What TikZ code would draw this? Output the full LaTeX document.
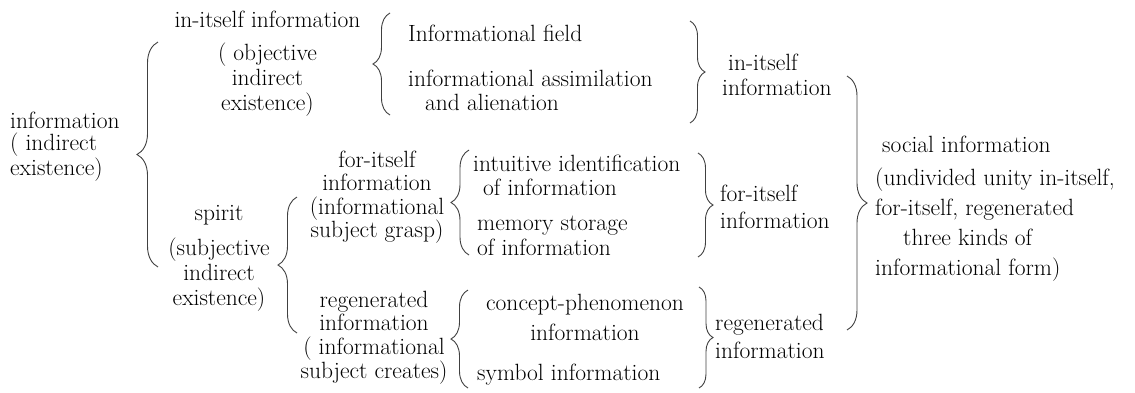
\documentclass[tikz,border=0pt]{standalone}
\usepackage{fontspec}
\usepackage{tikz}
\usetikzlibrary{decorations.pathreplacing}

\begin{document}
\begin{tikzpicture}
[x=1pt,y=-1pt,%
  every node/.style={inner sep=0pt,font=\fontsize{23.5}{24}\selectfont},%
  lines/.style={font=\fontsize{23.5}{#1}\selectfont},%
  curl/.style={draw=black!75,line width=0.9pt,decorate,decoration={brace,amplitude=#1pt}}]
\useasboundingbox (0,0) rectangle (1135,392);
\node[anchor=west,align=left,lines=22.5] (info) at (10,146.5)
  {information\\( indirect\\ existence)};
\node[align=center,lines=25] (initself) at (267.5,63.5)
  {in-itself information\\[8pt]( objective\\indirect\\existence)};
\node[align=center,lines=25] (spirit) at (219,258.5)
  {spirit\\[10pt](subjective\\indirect\\existence)};
\node[align=center,lines=23.5] (forit) at (377,197)
  {for-itself\\information\\(informational\\subject grasp)};
\node[align=center,lines=23.7] (regen) at (374,337.5)
  {regenerated\\information\\( informational\\subject creates)};
\node[anchor=west] (field) at (408,33) {Informational field};
\node[anchor=west,align=left,lines=24] (assim) at (408,90)
  {informational assimilation\\\hspace*{17pt}and alienation};
\node[anchor=west,align=left,lines=24] (intuit) at (473,175)
  {intuitive identification\\\hspace*{10pt}of information};
\node[anchor=west,align=left,lines=25] (memory) at (477,235.5)
  {memory storage\\of information};
\node[align=center,lines=30] (concept) at (585,317)
  {concept-phenomenon\\information};
\node[anchor=west] (symbol) at (477,375) {symbol information};
\node[anchor=west,align=left,lines=25] (rinit) at (722,74.5)
  {\hspace*{6pt}in-itself\\information};
\node[anchor=west,align=left,lines=27] (rfor) at (720,206.5)
  {for-itself\\information};
\node[anchor=west,align=left,lines=28] (rregen) at (715,336)
  {regenerated\\information};
\node[anchor=west,align=left,lines=30] (social) at (875,208.5)
  {\hspace*{7pt}social information\\[3pt](undivided unity in-itself,\\for-itself, regenerated\\\hspace*{28pt}three kinds of\\informational form)};
\coordinate (b1t) at (158,42);  \coordinate (b1b) at (158,267);
\coordinate (b2t) at (390,13);  \coordinate (b2b) at (390,115);
\coordinate (b3t) at (690,21);  \coordinate (b3b) at (690,123);
\coordinate (b4t) at (297,197); \coordinate (b4b) at (297,333);
\coordinate (b5t) at (469,150); \coordinate (b5b) at (469,255);
\coordinate (b6t) at (698,153); \coordinate (b6b) at (698,257);
\coordinate (b7t) at (468,290); \coordinate (b7b) at (468,388);
\coordinate (b8t) at (699,287); \coordinate (b8b) at (699,388);
\coordinate (b9t) at (847,76);  \coordinate (b9b) at (847,330);
\draw[curl=21] (b1b) -- (b1t);
\draw[curl=17] (b2b) -- (b2t);
\draw[curl=15] (b3t) -- (b3b);
\draw[curl=19] (b4b) -- (b4t);
\draw[curl=18] (b5b) -- (b5t);
\draw[curl=15] (b6t) -- (b6b);
\draw[curl=17] (b7b) -- (b7t);
\draw[curl=14] (b8t) -- (b8b);
\draw[curl=20] (b9t) -- (b9b);
\end{tikzpicture}
\end{document}
